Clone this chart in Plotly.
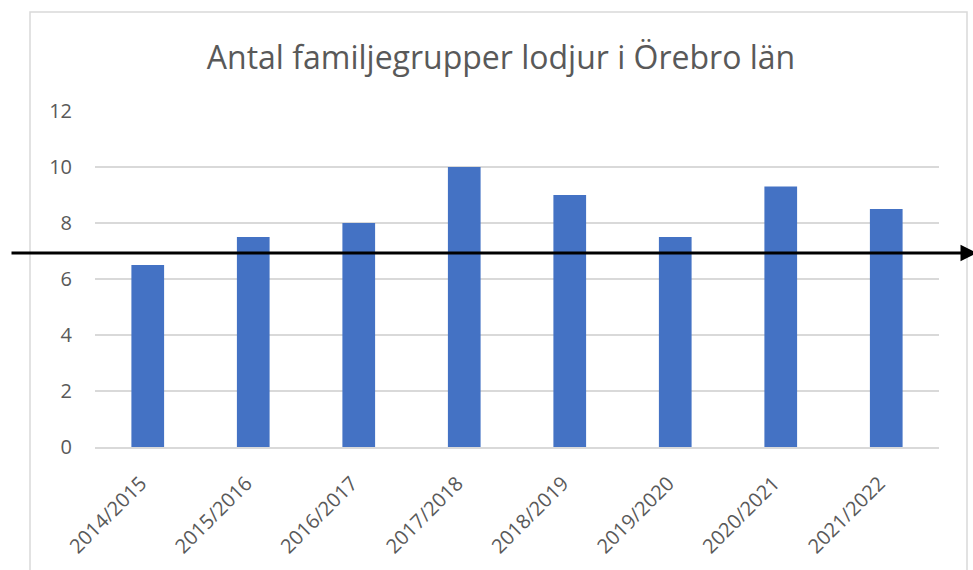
import plotly.graph_objects as go

seasons = ["2014/2015", "2015/2016", "2016/2017", "2017/2018",
           "2018/2019", "2019/2020", "2020/2021", "2021/2022"]
family_groups = [6.5, 7.5, 8, 10, 9, 7.5, 9.3, 8.5]
y_ticks = [0, 2, 4, 6, 8, 10, 12]
reference_level = 6.93
title_text = "Antal familjegrupper lodjur i Örebro län"

FONT = "Open Sans"
GREY = "#595959"

fig = go.Figure(go.Bar(
    x=seasons, y=family_groups,
    marker=dict(color="#4472C4", line=dict(width=0)),
    hoverinfo="x+y",
))

L, R, T, B = 95, 34, 111, 123
W, H = 973, 570
pw, ph = W - L - R, H - T - B

def px_x(px):
    return (px - L) / pw

def px_y(py):
    return (H - B - py) / ph

fig.update_layout(
    width=W, height=H,
    margin=dict(l=L, r=R, t=T, b=B, autoexpand=False),
    paper_bgcolor="white", plot_bgcolor="white",
    bargap=0.69,
    showlegend=False,
    font=dict(family=FONT, color=GREY, size=20),
    title=dict(text=title_text, x=501 / W, xref="container", xanchor="center",
               y=1 - 58 / H, yref="container", yanchor="middle",
               font=dict(family=FONT, size=32, color=GREY)),
    xaxis=dict(tickangle=-45, showgrid=False, showline=True,
               linecolor="#D9D9D9", linewidth=1.5, ticks="",
               ticklabelstandoff=15, ticklabelshift=-7, automargin=False,
               tickfont=dict(size=20, color=GREY)),
    yaxis=dict(range=[0, 12], tickvals=y_ticks, showgrid=True,
               gridcolor="#D9D9D9", gridwidth=1.5, zeroline=False,
               showline=False, ticks="", ticklabelstandoff=22,
               automargin=False,
               tickfont=dict(size=20, color=GREY)),
    shapes=[dict(type="rect", xref="paper", yref="paper",
                 x0=px_x(30), x1=px_x(967), y0=px_y(12), y1=px_y(600),
                 line=dict(color="#D9D9D9", width=1.5), layer="below")],
    annotations=[dict(xref="x domain", yref="y", axref="x domain", ayref="y",
                      x=px_x(977), y=reference_level,
                      ax=px_x(10), ay=reference_level,
                      text="", showarrow=True, arrowhead=2, arrowsize=1.1,
                      arrowwidth=3, arrowcolor="black")],
)

fig.write_html("out.html", config={"displayModeBar": False},
               post_script="document.body.style.margin='0';")
